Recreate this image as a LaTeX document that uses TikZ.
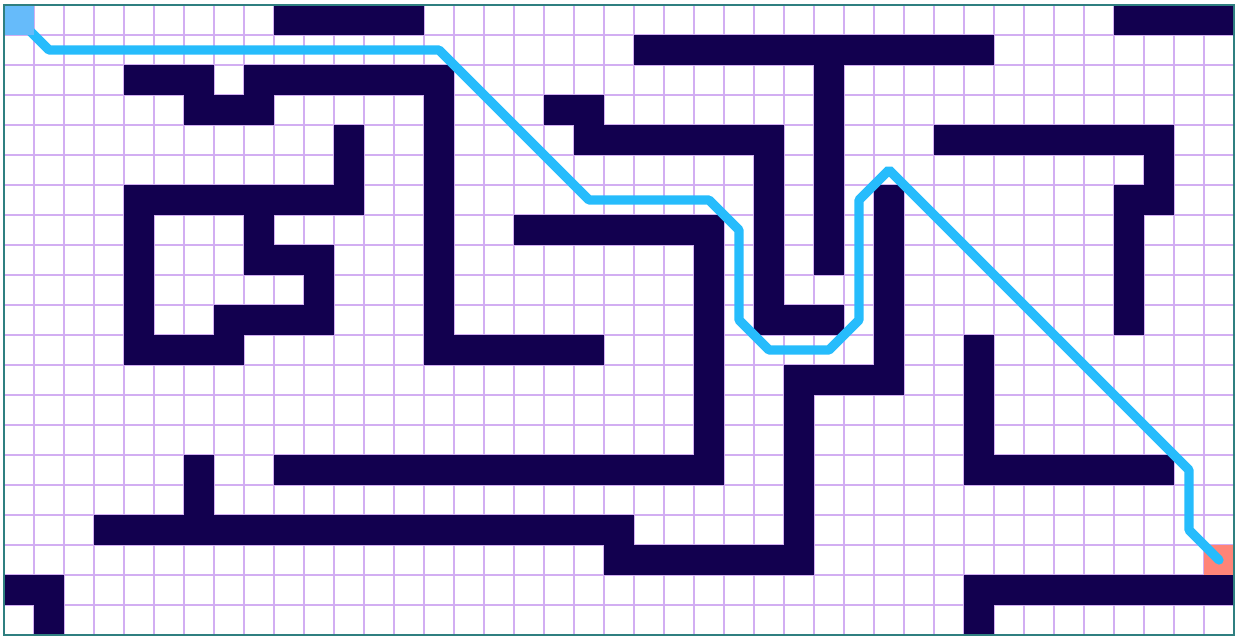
\documentclass[tikz,border=0pt]{standalone}
\usepackage{tikz}
\usetikzlibrary{positioning}
\definecolor{cwall}{HTML}{12004F}
\definecolor{cgrid}{HTML}{D2AEF2}
\definecolor{cedge}{HTML}{2F7F80}
\definecolor{cpath}{HTML}{26BCFC}
\definecolor{cstart}{HTML}{66BBFA}
\definecolor{cgoal}{HTML}{FF8478}

\begin{document}
\begin{tikzpicture}[
  x=0.6cm, y=-0.6cm,
  gridline/.style={draw=cgrid, line width=0.03cm},
  wall/.style={fill=cwall, draw=none},
  cellbox/.style={
    rectangle, draw=none,
    minimum size=0.6cm, inner sep=0pt
  },
  startcell/.style={cellbox, fill=cstart},
  goalcell/.style={cellbox, fill=cgoal},
  route/.style={
    draw=cpath, line width=0.185cm,
    line join=bevel, line cap=round
  },
  frame/.style={draw=cedge, line width=0.03cm}
]

\useasboundingbox (-0.133,-0.167) rectangle (41.1,21.133);

\foreach \c in {0,...,41}
  \draw[gridline] (\c,0) -- (\c,21);
\foreach \r in {0,...,21}
  \draw[gridline] (0,\r) -- (41,\r);

\foreach \ca/\ra/\cb/\rb in {
    9/0/13/0, 37/0/40/0, 21/1/32/1, 27/2/27/8,
    4/2/6/2, 8/2/14/2, 6/3/8/3, 14/2/14/11, 14/11/19/11,
    18/3/19/3, 19/4/25/4, 25/4/25/10, 25/10/27/10,
    11/4/11/6, 4/6/11/6, 4/6/4/11, 4/11/7/11, 7/10/7/11,
    7/10/10/10, 10/8/10/10, 8/8/10/8, 8/6/8/8,
    17/7/23/7, 23/7/23/15, 9/15/23/15, 6/15/6/17,
    3/17/20/17, 20/18/26/18, 26/12/26/18, 26/12/29/12, 29/6/29/12,
    31/4/38/4, 38/4/38/6, 37/6/38/6, 37/6/37/10,
    32/11/32/15, 32/15/38/15, 32/19/40/19, 32/19/32/20,
    0/19/1/19, 1/19/1/20}
  \fill[wall] (\ca,\ra) rectangle ({\cb+1},{\rb+1});

\node[goalcell] (goal) at (40.5,18.5) {};

\coordinate (p1) at (1.5,1.5);
\coordinate (p2) at (14.5,1.5);
\coordinate (p3) at (19.5,6.5);
\coordinate (p4) at (23.5,6.5);
\coordinate (p5) at (24.5,7.5);
\coordinate (p6) at (24.5,10.5);
\coordinate (p7) at (25.5,11.5);
\coordinate (p8) at (27.5,11.5);
\coordinate (p9) at (28.5,10.5);
\coordinate (p10) at (28.5,6.5);
\coordinate (p11) at (29.5,5.5);
\coordinate (p12) at (39.5,15.5);
\coordinate (p13) at (39.5,17.5);

\draw[route] (0.5,0.5) -- (p1) -- (p2) -- (p3) -- (p4) -- (p5) -- (p6)
  -- (p7) -- (p8) -- (p9) -- (p10) -- (p11) -- (p12) -- (p13) -- (goal.center);

\node[startcell] (start) at (0.5,0.5) {};

\draw[frame] (0,0) rectangle (41,21);

\end{tikzpicture}
\end{document}
